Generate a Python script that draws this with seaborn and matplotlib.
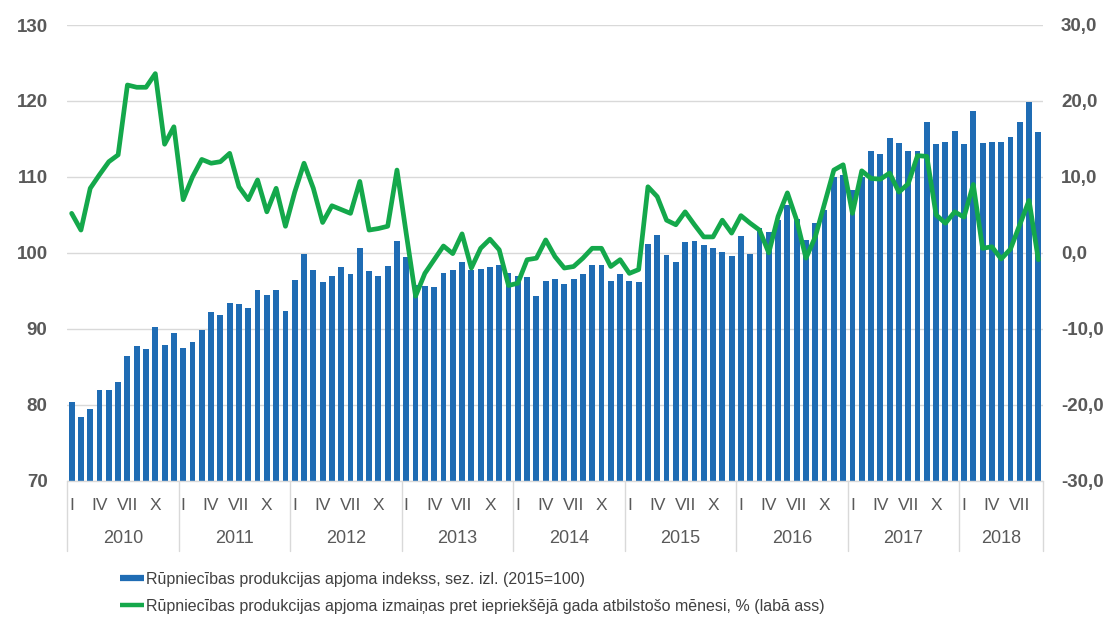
import numpy as np
import pandas as pd
import matplotlib
matplotlib.use("Agg")
import matplotlib.pyplot as plt
import seaborn as sns
from matplotlib.lines import Line2D
from matplotlib.transforms import blended_transform_factory

# ---------------- data ----------------
years = [2010, 2011, 2012, 2013, 2014, 2015, 2016, 2017, 2018]
months_per_year = [12, 12, 12, 12, 12, 12, 12, 12, 9]
month_tick_labels = ["I", "IV", "VII", "X"]
month_tick_offsets = [0, 3, 6, 9]

index_values = [
    80.3, 78.4, 79.5, 82.0, 82.0, 83.0, 86.4, 87.7, 87.3, 90.3, 87.9, 89.4,      # 2010
    87.5, 88.2, 89.9, 92.2, 91.8, 93.4, 93.2, 92.8, 95.1, 94.5, 95.1, 92.4,      # 2011
    96.4, 99.9, 97.8, 96.1, 97.0, 98.1, 97.2, 100.6, 97.6, 97.0, 98.3, 101.6,    # 2012
    99.5, 95.8, 95.7, 95.5, 97.4, 97.7, 98.8, 97.7, 97.9, 98.1, 98.4, 97.3,      # 2013
    97.0, 96.8, 94.3, 96.3, 96.5, 95.9, 96.5, 97.2, 98.4, 98.4, 96.3, 97.2,      # 2014
    96.3, 96.2, 101.2, 102.4, 99.7, 98.8, 101.4, 101.6, 101.0, 100.6, 100.1, 99.6,  # 2015
    102.2, 99.9, 103.3, 102.7, 104.3, 106.3, 104.4, 101.7, 103.9, 105.7, 110.0, 110.2,  # 2016
    108.3, 110.0, 113.4, 113.0, 115.1, 114.5, 113.4, 113.4, 117.2, 114.3, 114.6, 116.1,  # 2017
    114.3, 118.7, 114.5, 114.6, 114.6, 115.3, 117.2, 119.9, 115.9,               # 2018
]

yoy_change = [
    5.2, 3.0, 8.5, 10.3, 12.0, 12.9, 22.1, 21.8, 21.8, 23.6, 14.3, 16.6,        # 2010
    7.0, 10.0, 12.3, 11.8, 12.0, 13.1, 8.7, 7.0, 9.6, 5.4, 8.5, 3.5,            # 2011
    8.0, 11.8, 8.5, 4.0, 6.2, 5.7, 5.2, 9.4, 3.0, 3.2, 3.5, 10.9,               # 2012
    2.5, -5.7, -2.7, -0.9, 0.9, -0.1, 2.5, -2.0, 0.6, 1.8, 0.4, -4.3,           # 2013
    -4.0, -0.9, -0.7, 1.7, -0.5, -2.0, -1.8, -0.7, 0.6, 0.6, -1.8, -0.9,        # 2014
    -2.7, -2.2, 8.7, 7.4, 4.3, 3.7, 5.4, 3.7, 2.1, 2.1, 4.3, 2.6,               # 2015
    4.9, 3.9, 3.0, 0.0, 4.8, 7.9, 4.3, -0.7, 2.1, 6.5, 10.9, 11.6,              # 2016
    5.2, 10.8, 9.8, 9.7, 10.5, 8.0, 9.1, 12.8, 12.7, 5.0, 3.9, 5.4,             # 2017
    4.7, 9.0, 0.6, 0.8, -0.8, 0.5, 3.7, 6.9, -0.9,                              # 2018
]

legend_labels = [
    "Rūpniecības produkcijas apjoma indekss, sez. izl. (2015=100)",
    "Rūpniecības produkcijas apjoma izmaiņas pret iepriekšējā gada atbilstošo mēnesi, % (labā ass)",
]

left_ticks = [70, 80, 90, 100, 110, 120, 130]
right_ticks = [-30, -20, -10, 0, 10, 20, 30]

# ---------------- style ----------------
BLUE = "#1F6CB4"
GREEN = "#14A84B"
GRID = "#D9D9D9"
TICK = "#595959"
LEG = "#404040"

sns.set_theme(style="white")
plt.rcParams["font.family"] = ["Liberation Sans", "DejaVu Sans"]

n = len(index_values)
df = pd.DataFrame({"pos": np.arange(n), "index": index_values, "yoy": yoy_change})

W, H = 1112, 623
fig = plt.figure(figsize=(W / 100, H / 100), dpi=100)
ax_left, ax_right, ax_top, ax_bottom = 67, 1043, 25, 480.7
ax_h = ax_bottom - ax_top
ax = fig.add_axes([ax_left / W, 1 - ax_bottom / H, (ax_right - ax_left) / W, ax_h / H])

sns.barplot(data=df, x="pos", y="index", color=BLUE, saturation=1, width=0.63,
            linewidth=0, ax=ax)
ax.set_ylim(70, 130)
ax.set_xlim(-0.5, n - 0.5)
ax.set_yticks(left_ticks)
ax.set_yticklabels([str(t) for t in left_ticks], fontsize=13.5, fontweight="bold", color=TICK)
ax.tick_params(axis="y", length=0, pad=14)
ax.set_xticks([])
ax.set_xlabel("")
ax.set_ylabel("")
ax.yaxis.grid(True, color=GRID, linewidth=1)
ax.set_axisbelow(True)
for s in ax.spines.values():
    s.set_visible(False)

ax2 = ax.twinx()
sns.lineplot(data=df, x="pos", y="yoy", color=GREEN, linewidth=3.4, ax=ax2)
for l in ax2.get_lines():
    l.set_solid_joinstyle("round")
    l.set_solid_capstyle("round")
ax2.set_ylim(-30, 30)
ax2.set_yticks(right_ticks)
ax2.set_yticklabels([f"{t:.1f}".replace(".", ",") for t in right_ticks],
                    fontsize=13.5, fontweight="bold", color=TICK)
ax2.tick_params(axis="y", length=0, pad=13)
ax2.set_ylabel("")
ax2.set_xlabel("")
ax2.grid(False)
for s in ax2.spines.values():
    s.set_visible(False)
ax2.set_xlim(-0.5, n - 0.5)

# category axis (months / years)
trans = blended_transform_factory(ax.transData, ax.transAxes)
start = 0
boundaries = [-0.5]
for yr, cnt in zip(years, months_per_year):
    for off, lab in zip(month_tick_offsets, month_tick_labels):
        if off < cnt:
            ax.text(start + off, -24.5 / ax_h, lab, transform=trans, ha="center", va="center",
                    fontsize=12.5, color=TICK)
    ax.text(start + (cnt - 1) / 2, -57.5 / ax_h, str(yr), transform=trans, ha="center",
            va="center", fontsize=13, color=TICK)
    start += cnt
    boundaries.append(start - 0.5)
for b in boundaries:
    ax.plot([b, b], [0, -70 / ax_h], transform=trans, clip_on=False, color=GRID, linewidth=1)
ax.plot([-0.5, n - 0.5], [0, 0], transform=trans, clip_on=False, color=GRID, linewidth=1)

# legend
handles = [Line2D([], [], color=BLUE, linewidth=4.5, solid_capstyle="butt"),
           Line2D([], [], color=GREEN, linewidth=3.2, solid_capstyle="butt")]
leg = fig.legend(handles, legend_labels, loc="upper left",
                 bbox_to_anchor=(120 / W, 1 - 572 / H), bbox_transform=fig.transFigure,
                 frameon=False, prop={"family": ["Liberation Sans"], "size": 11.5},
                 handlelength=1.5, handletextpad=0.15,
                 labelspacing=0.75, borderpad=0, borderaxespad=0)
for t in leg.get_texts():
    t.set_color(LEG)

fig.savefig("out.png", dpi=100)
